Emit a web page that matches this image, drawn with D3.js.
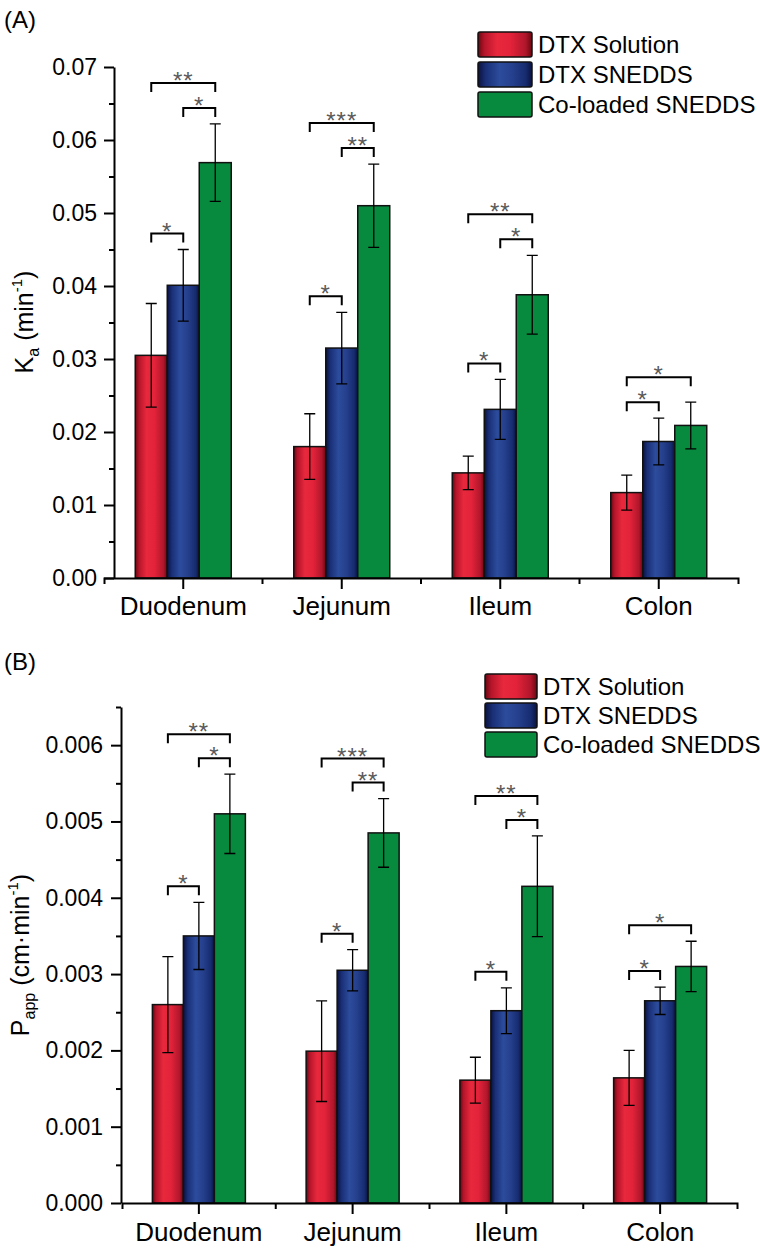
<!DOCTYPE html>
<html><head><meta charset="utf-8">
<script src="https://cdn.jsdelivr.net/npm/d3@7"></script>
<style>
body{margin:0;background:#fff}
svg{display:block}
text{font-family:"Liberation Sans",Arial,Helvetica,sans-serif}
</style>
</head><body>
<svg id="c" width="760" height="1251"></svg>
<script>
// ---------------- DATA ----------------
const categories = ["Duodenum", "Jejunum", "Ileum", "Colon"];
const seriesNames = ["DTX Solution", "DTX SNEDDS", "Co-loaded SNEDDS"];

// Panel A: Ka (min^-1)
const kaSolution     = [0.0305, 0.0180, 0.0144, 0.0117];
const kaSolutionErr  = [0.0071, 0.0045, 0.0023, 0.0024];
const kaSnedds       = [0.0401, 0.0315, 0.0231, 0.0187];
const kaSneddsErr    = [0.0049, 0.0049, 0.0041, 0.0032];
const kaColoaded     = [0.0569, 0.0510, 0.0388, 0.0209];
const kaColoadedErr  = [0.0053, 0.0057, 0.0054, 0.0032];
const kaTicks        = [0, 0.01, 0.02, 0.03, 0.04, 0.05, 0.06, 0.07];
const kaMinorTicks   = [0.005, 0.015, 0.025, 0.035, 0.045, 0.055, 0.065];

// Panel B: Papp (cm·min^-1)
const pappSolution    = [0.00260, 0.00199, 0.00161, 0.00164];
const pappSolutionErr = [0.00063, 0.00066, 0.00030, 0.00036];
const pappSnedds      = [0.00350, 0.00305, 0.00252, 0.00265];
const pappSneddsErr   = [0.00044, 0.00027, 0.00030, 0.00018];
const pappColoaded    = [0.00510, 0.00485, 0.00415, 0.00310];
const pappColoadedErr = [0.00052, 0.00045, 0.00066, 0.00033];
const pappTicks       = [0, 0.001, 0.002, 0.003, 0.004, 0.005, 0.006];
const pappMinorTicks  = [0.0005, 0.0015, 0.0025, 0.0035, 0.0045, 0.0055, 0.0065];

// Significance: [category, series index from, series index to, label]
const kaSignif = [
  ["Duodenum", 0, 1, "*"], ["Duodenum", 1, 2, "*"], ["Duodenum", 0, 2, "**"],
  ["Jejunum", 0, 1, "*"], ["Jejunum", 1, 2, "**"], ["Jejunum", 0, 2, "***"],
  ["Ileum", 0, 1, "*"], ["Ileum", 1, 2, "*"], ["Ileum", 0, 2, "**"],
  ["Colon", 0, 1, "*"], ["Colon", 0, 2, "*"]
];
const pappSignif = [
  ["Duodenum", 0, 1, "*"], ["Duodenum", 1, 2, "*"], ["Duodenum", 0, 2, "**"],
  ["Jejunum", 0, 1, "*"], ["Jejunum", 1, 2, "**"], ["Jejunum", 0, 2, "***"],
  ["Ileum", 0, 1, "*"], ["Ileum", 1, 2, "*"], ["Ileum", 0, 2, "**"],
  ["Colon", 0, 1, "*"], ["Colon", 0, 2, "*"]
];

// ---------------- DRAWING ----------------
const svg = d3.select("#c");
const defs = svg.append("defs");

function gradient(id, stops) {
  const lg = defs.append("linearGradient").attr("id", id)
    .attr("x1", "0").attr("x2", "1").attr("y1", "0").attr("y2", "0");
  stops.forEach(([o, c]) => lg.append("stop").attr("offset", o).attr("stop-color", c));
}
gradient("gRed", [[0, "#6a0710"], [0.12, "#b5152a"], [0.35, "#e8283c"], [0.6, "#e3233a"], [0.88, "#b0162b"], [1, "#6a0710"]]);
gradient("gBlue", [[0, "#0a1240"], [0.15, "#1a3078"], [0.4, "#2c4c9c"], [0.65, "#253f8c"], [0.88, "#172c70"], [1, "#0a1240"]]);
const fills = ["url(#gRed)", "url(#gBlue)", "#07893e"];

function styleAxis(sel, fontSize) {
  sel.attr("font-family", null).attr("font-size", null);
  sel.selectAll("path.domain").attr("stroke", "#000").attr("stroke-width", 2);
  sel.selectAll(".tick line").attr("stroke", "#000").attr("stroke-width", 2);
  sel.selectAll(".tick text").attr("fill", "#000").style("font-size", fontSize + "px");
}

function drawPanel(cfg) {
  const g = svg.append("g");
  const x = d3.scaleBand().domain(categories).range([cfg.xStart, cfg.xEnd]);
  const xs = d3.scaleBand().domain([0, 1, 2])
    .range([x.bandwidth() / 2 - cfg.groupHalf, x.bandwidth() / 2 + cfg.groupHalf]);
  const y = d3.scaleLinear().domain([0, cfg.yMax]).range([cfg.yZero, cfg.yTop]);

  const rows = [];
  cfg.means.forEach((arr, s) => arr.forEach((v, i) => rows.push({
    s, cat: categories[i], v, e: cfg.errs[s][i]
  })));
  const cx = d => x(d.cat) + xs(d.s) + xs.bandwidth() / 2;

  // bars
  g.append("g").selectAll("rect").data(rows).join("rect")
    .attr("x", d => x(d.cat) + xs(d.s))
    .attr("y", d => y(d.v))
    .attr("width", xs.bandwidth())
    .attr("height", d => y(0) - y(d.v))
    .attr("fill", d => fills[d.s])
    .attr("stroke", "#111").attr("stroke-width", 1.5);

  // error bars
  const eb = g.append("g").attr("stroke", "#000").attr("stroke-width", 1.3).attr("fill", "none");
  eb.selectAll("path").data(rows).join("path")
    .attr("d", d => {
      const c = cx(d), t = y(d.v + d.e), b = y(d.v - d.e), w = cfg.cap / 2;
      return `M${c - w},${t}H${c + w}M${c},${t}V${b}M${c - w},${b}H${c + w}`;
    });

  // significance brackets
  const bg = g.append("g");
  const placed = {};
  cfg.signif.forEach(([cat, a, b, lab]) => {
    const involved = rows.filter(r => r.cat === cat && r.s >= a && r.s <= b);
    let top = d3.min(involved, r => y(r.v + r.e)) - cfg.gap;
    (placed[cat] || []).forEach(p => {
      if (p.a <= b && p.b >= a) top = Math.min(top, p.y - cfg.stack);
    });
    (placed[cat] = placed[cat] || []).push({ a, b, y: top });
    const xa = x(cat) + xs(a) + xs.bandwidth() / 2;
    const xb = x(cat) + xs(b) + xs.bandwidth() / 2;
    bg.append("path")
      .attr("d", `M${xa},${top + cfg.leg}V${top}H${xb}V${top + cfg.leg}`)
      .attr("fill", "none").attr("stroke", "#000").attr("stroke-width", 2);
    bg.append("text")
      .attr("x", (xa + xb) / 2).attr("y", top + 6)
      .attr("text-anchor", "middle")
      .style("font-size", "24px").style("letter-spacing", "1px").attr("fill", "#5a5a5a")
      .text(lab);
  });

  // y axis
  const ya = g.append("g").attr("transform", `translate(${cfg.axisX},0)`)
    .call(d3.axisLeft(y).tickValues(cfg.ticks).tickFormat(d3.format(cfg.fmt))
      .tickSize(10).tickPadding(cfg.yPad).tickSizeOuter(0));
  styleAxis(ya, 23);
  const ym = g.append("g").attr("transform", `translate(${cfg.axisX},0)`)
    .call(d3.axisLeft(y).tickValues(cfg.minor).tickFormat("").tickSize(5).tickSizeOuter(0));
  ym.select("path.domain").remove();
  styleAxis(ym, 23);

  // x axis
  const xa = g.append("g").attr("transform", `translate(0,${cfg.yZero})`)
    .call(d3.axisBottom(x).tickSize(11).tickSizeOuter(6).tickPadding(cfg.xPad));
  styleAxis(xa, 26);
  xa.selectAll("line.minor").data(categories.slice(1)).join("line")
    .attr("class", "minor")
    .attr("x1", d => x(d)).attr("x2", d => x(d))
    .attr("y1", 0).attr("y2", 6)
    .attr("stroke", "#000").attr("stroke-width", 2);

  // y title
  const yt = g.append("text")
    .attr("transform", `translate(${cfg.titleX},${cfg.titleY}) rotate(-90)`)
    .attr("text-anchor", "middle").style("font-size", "25px").attr("fill", "#000");
  cfg.title.forEach(([txt, kind]) => {
    const t = yt.append("tspan").text(txt);
    if (kind === "sub") t.style("font-size", "16px").attr("dy", 6);
    else if (kind === "sup") t.style("font-size", "15px").attr("dy", -11);
    else if (kind === "afterSub") t.attr("dy", -6);
    else if (kind === "afterSup") t.attr("dy", 11);
  });

  // panel label
  g.append("text").attr("x", 4).attr("y", cfg.labelY)
    .style("font-size", "24px").attr("fill", "#000").text(cfg.label);

  // legend
  const lg = g.append("g");
  seriesNames.forEach((name, i) => {
    const top = cfg.legY + i * cfg.legPitch;
    lg.append("rect").attr("x", cfg.legX).attr("y", top)
      .attr("width", cfg.swW).attr("height", cfg.swH).attr("rx", 2)
      .attr("fill", fills[i]).attr("stroke", "#111").attr("stroke-width", 1.5);
    lg.append("text").attr("x", cfg.legX + cfg.swW + 6).attr("y", top + cfg.swH / 2 + 8.5)
      .style("font-size", "24px").attr("fill", "#000").text(name);
  });
}

drawPanel({
  means: [kaSolution, kaSnedds, kaColoaded],
  errs: [kaSolutionErr, kaSneddsErr, kaColoadedErr],
  ticks: kaTicks, minor: kaMinorTicks, fmt: ".2f", signif: kaSignif,
  xStart: 104, xEnd: 738, groupHalf: 48, yMax: 0.07, yZero: 578, yTop: 67,
  axisX: 114, yPad: 7, xPad: 8, cap: 11, gap: 16, stack: 25, leg: 9,
  title: [["K"], ["a", "sub"], [" (min", "afterSub"], ["-1", "sup"], [")", "afterSup"]],
  titleX: 33, titleY: 322, label: "(A)", labelY: 28,
  legX: 478, legY: 32, legPitch: 30, swW: 54, swH: 25
});

drawPanel({
  means: [pappSolution, pappSnedds, pappColoaded],
  errs: [pappSolutionErr, pappSneddsErr, pappColoadedErr],
  ticks: pappTicks, minor: pappMinorTicks, fmt: ".3f", signif: pappSignif,
  xStart: 122, xEnd: 737, groupHalf: 46.5, yMax: 0.0065, yZero: 1203, yTop: 707,
  axisX: 121, yPad: 8, xPad: 9, cap: 11, gap: 16, stack: 24, leg: 9,
  title: [["P"], ["app", "sub"], [" (cm\u00B7min", "afterSub"], ["-1", "sup"], [")", "afterSup"]],
  titleX: 29, titleY: 955, label: "(B)", labelY: 670,
  legX: 485, legY: 674, legPitch: 29, swW: 52, swH: 25
});
</script>
</body></html>
